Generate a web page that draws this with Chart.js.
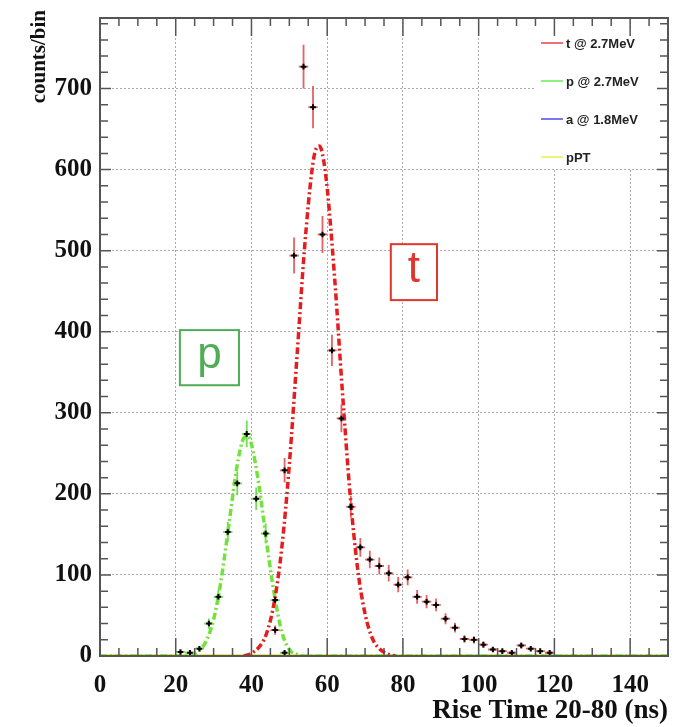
<!DOCTYPE html>
<html lang="en">
<head>
<meta charset="UTF-8">
<title>Rise Time 20-80</title>
<script src="https://cdn.jsdelivr.net/npm/chart.js"></script>
<style>
    html, body { margin: 0; padding: 0; background: #fff; }
    #wrap { width: 692px; height: 727px; }
</style>
</head>
<body>
<div id="wrap"><canvas id="riseTime" width="692" height="727"></canvas></div>
<script>
    // histogram values (bins are 2.5 ns wide)
    const tBins   = [46.25, 48.75, 51.25, 53.75, 56.25, 58.75, 61.25, 63.75, 66.25, 68.75, 71.25, 73.75, 76.25, 78.75, 81.25,
                     83.75, 86.25, 88.75, 91.25, 93.75, 96.25, 98.75, 101.25, 103.75, 106.25, 108.75, 111.25, 113.75, 116.25, 118.75];
    const tCounts = [32, 229, 494, 727, 677, 520, 377, 293, 184, 134, 119, 111, 102, 88, 97,
                     73, 67, 63, 46, 35, 21, 20, 14, 8, 6, 4, 13, 9, 6, 4];
    const tErrors = [5.7, 15.1, 22.2, 27, 26, 22.8, 19.4, 17.1, 13.6, 11.6, 10.9, 10.5, 10.1, 9.4, 9.8,
                     8.5, 8.2, 7.9, 6.8, 5.9, 4.6, 4.5, 3.7, 2.8, 2.4, 2, 3.6, 3, 2.4, 2];

    const pBins   = [21.25, 23.75, 26.25, 28.75, 31.25, 33.75, 36.25, 38.75, 41.25, 43.75, 46.25, 48.75];
    const pCounts = [5, 4, 9, 40, 73, 153, 213, 274, 194, 151, 69, 4];
    const pErrors = [2.2, 2, 3, 6.3, 8.5, 12.4, 14.6, 16.6, 13.9, 12.3, 8.3, 2];

    // fitted curves
    const tFitX = [38, 40, 42, 44, 46, 48, 50, 52, 54, 56, 57, 58, 59, 60, 62, 64, 66, 68, 70, 72, 74, 76, 78];
    const tFitY = [0, 3.5, 11, 28, 66, 133, 236, 368, 502, 600, 625, 629, 613, 577, 464, 327, 202, 109, 52, 21, 8, 2.5, 0];
    const pFitX = [0, 20, 24, 26, 28, 30, 32, 34, 36, 37, 38, 39, 40, 42, 44, 46, 48, 50, 52, 54, 150];
    const pFitY = [0, 0, 1.6, 6, 18, 45, 94, 161, 229, 254, 269, 271, 261, 210, 140, 77, 30, 8, 2, 0, 0];
    const pptX  = [0, 150];
    const pptY  = [0, 0];

    const legendLabels = ['t @ 2.7MeV', 'p @ 2.7MeV', 'a @ 1.8MeV', 'pPT'];
    const halfBin = 1.25;

    function pts(xs, ys) {
        return xs.map((x, i) => ({ x: x, y: ys[i] }));
    }

    const serif = '"Liberation Serif", "Times New Roman", serif';
    const sans = '"Liberation Sans", Arial, sans-serif';

    // ROOT-like decorations: error bars, frame, inner ticks, boxes, legend
    const rootStyle = {
        id: 'rootStyle',
        beforeDatasetsDraw(chart) {
            const ctx = chart.ctx, x = chart.scales.x, y = chart.scales.y, a = chart.chartArea;
            ctx.save();
            ctx.beginPath();
            ctx.rect(a.left, a.top, a.right - a.left, a.bottom - a.top);
            ctx.clip();
            const bars = (xs, ys, es, color) => {
                ctx.strokeStyle = color;
                ctx.lineWidth = 1.8;
                for (let i = 0; i < xs.length; i++) {
                    const px = x.getPixelForValue(xs[i]);
                    const py = y.getPixelForValue(ys[i]);
                    ctx.beginPath();
                    ctx.moveTo(px, y.getPixelForValue(ys[i] - es[i]));
                    ctx.lineTo(px, y.getPixelForValue(ys[i] + es[i]));
                    ctx.moveTo(x.getPixelForValue(xs[i] - halfBin), py);
                    ctx.lineTo(x.getPixelForValue(xs[i] + halfBin), py);
                    ctx.stroke();
                }
            };
            bars(tBins, tCounts, tErrors, 'rgba(228, 80, 80, 0.9)');
            bars(pBins, pCounts, pErrors, 'rgba(110, 215, 80, 0.95)');
            ctx.restore();
        },
        afterDatasetsDraw(chart) {
            const ctx = chart.ctx, x = chart.scales.x, y = chart.scales.y, a = chart.chartArea;
            ctx.save();

            // annotation boxes
            const box = (x0, x1, y0, y1, color, txt) => {
                const l = x.getPixelForValue(x0), r = x.getPixelForValue(x1);
                const t = y.getPixelForValue(y1), b = y.getPixelForValue(y0);
                ctx.fillStyle = '#fff';
                ctx.fillRect(l, t, r - l, b - t);
                ctx.strokeStyle = color;
                ctx.lineWidth = 2;
                ctx.strokeRect(l, t, r - l, b - t);
                ctx.fillStyle = color;
                ctx.font = '44px ' + sans;
                ctx.textAlign = 'center';
                ctx.textBaseline = 'middle';
                ctx.fillText(txt, (l + r) / 2, (t + b) / 2 - 2);
            };
            box(21.1, 36.7, 334, 402, '#4fae55', 'p');
            box(76.8, 89, 439, 508, '#e0362b', 't');

            // legend in the top right corner
            const lx = a.right - 133, ly = a.top + 10;
            ctx.fillStyle = '#fff';
            ctx.fillRect(lx, ly, a.right - lx, 140);
            ctx.font = 'bold 13px ' + sans;
            ctx.textAlign = 'left';
            ctx.textBaseline = 'middle';
            for (let i = 0; i < legendLabels.length; i++) {
                const ds = chart.data.datasets[2 + i];
                const yy = ly + 15 + i * 38;
                ctx.strokeStyle = ds.legendColor;
                ctx.lineWidth = 1.5;
                ctx.beginPath();
                ctx.moveTo(lx + 6, yy);
                ctx.lineTo(lx + 28, yy);
                ctx.stroke();
                ctx.fillStyle = '#222';
                ctx.fillText(legendLabels[i], lx + 31, yy + 1);
            }

            // frame
            ctx.strokeStyle = '#555';
            ctx.lineWidth = 2;
            ctx.strokeRect(a.left, a.top, a.right - a.left, a.bottom - a.top);

            // inner ticks on all four sides
            ctx.lineWidth = 1.5;
            ctx.beginPath();
            for (let v = 0; v <= x.max; v += 5) {
                const px = x.getPixelForValue(v);
                const len = v % 20 === 0 ? 18 : 8;
                ctx.moveTo(px, a.bottom); ctx.lineTo(px, a.bottom - len);
                ctx.moveTo(px, a.top); ctx.lineTo(px, a.top + len);
            }
            for (let v = 0; v <= y.max; v += 20) {
                const py = y.getPixelForValue(v);
                const len = v % 100 === 0 ? 11 : 8;
                ctx.moveTo(a.left, py); ctx.lineTo(a.left + len, py);
                ctx.moveTo(a.right, py); ctx.lineTo(a.right - len, py);
            }
            ctx.stroke();

            // y axis title at the top
            ctx.translate(45, 10);
            ctx.rotate(-Math.PI / 2);
            ctx.font = 'bold 21px ' + serif;
            ctx.fillStyle = '#111';
            ctx.textAlign = 'right';
            ctx.textBaseline = 'alphabetic';
            ctx.fillText('counts/bin', 0, 0);
            ctx.restore();
        }
    };

    const chart = new Chart(document.getElementById('riseTime'), {
        type: 'scatter',
        data: {
            datasets: [
                {
                    label: 't data',
                    data: pts(tBins, tCounts),
                    pointStyle: 'cross',
                    pointRadius: 2.8,
                    pointBorderWidth: 2,
                    borderColor: '#000',
                    backgroundColor: '#000'
                },
                {
                    label: 'p data',
                    data: pts(pBins, pCounts),
                    pointStyle: 'cross',
                    pointRadius: 2.8,
                    pointBorderWidth: 2,
                    borderColor: '#000',
                    backgroundColor: '#000'
                },
                {
                    label: legendLabels[0],
                    data: pts(tFitX, tFitY),
                    showLine: true,
                    pointRadius: 0,
                    borderColor: '#e41d1d',
                    legendColor: '#f04040',
                    borderWidth: 3.5,
                    borderDash: [7, 3, 2, 3],
                    cubicInterpolationMode: 'monotone'
                },
                {
                    label: legendLabels[1],
                    data: pts(pFitX, pFitY),
                    showLine: true,
                    pointRadius: 0,
                    borderColor: '#72e33c',
                    legendColor: '#66ee55',
                    borderWidth: 3.5,
                    borderDash: [7, 3, 2, 3],
                    cubicInterpolationMode: 'monotone'
                },
                {
                    label: legendLabels[2],
                    data: [],
                    showLine: true,
                    pointRadius: 0,
                    borderColor: '#3f3ff0',
                    legendColor: '#4a4af0',
                    borderWidth: 1.5
                },
                {
                    label: legendLabels[3],
                    data: pts(pptX, pptY),
                    showLine: true,
                    pointRadius: 0,
                    borderColor: '#e9e95a',
                    legendColor: '#eeee44',
                    borderWidth: 4
                }
            ]
        },
        options: {
            responsive: false,
            animation: false,
            devicePixelRatio: 1,
            layout: { padding: { top: 18, right: 24, left: 0, bottom: 0 } },
            plugins: {
                legend: { display: false },
                tooltip: { enabled: false }
            },
            scales: {
                x: {
                    type: 'linear',
                    min: 0,
                    max: 150,
                    afterFit: s => { s.height = 71; s.paddingLeft = 0; s.paddingRight = 0; },
                    ticks: {
                        stepSize: 20,
                        includeBounds: false,
                        padding: 15,
                        color: '#111',
                        font: { family: serif, size: 25, weight: 'bold' }
                    },
                    grid: { color: '#aaa', lineWidth: 1, drawTicks: false },
                    border: { display: false, dash: [2, 2] },
                    title: {
                        display: true,
                        text: 'Rise Time 20-80 (ns)',
                        align: 'end',
                        color: '#111',
                        padding: 0,
                        font: { family: serif, size: 27, weight: 'bold' }
                    }
                },
                y: {
                    type: 'linear',
                    min: 0,
                    max: 787,
                    afterFit: s => { s.width = 100; s.paddingTop = 0; s.paddingBottom = 0; },
                    ticks: {
                        stepSize: 100,
                        includeBounds: false,
                        padding: 8,
                        color: '#111',
                        font: { family: serif, size: 25, weight: 'bold' }
                    },
                    grid: { color: '#aaa', lineWidth: 1, drawTicks: false },
                    border: { display: false, dash: [2, 2] }
                }
            }
        },
        plugins: [rootStyle]
    });
</script>
</body>
</html>
